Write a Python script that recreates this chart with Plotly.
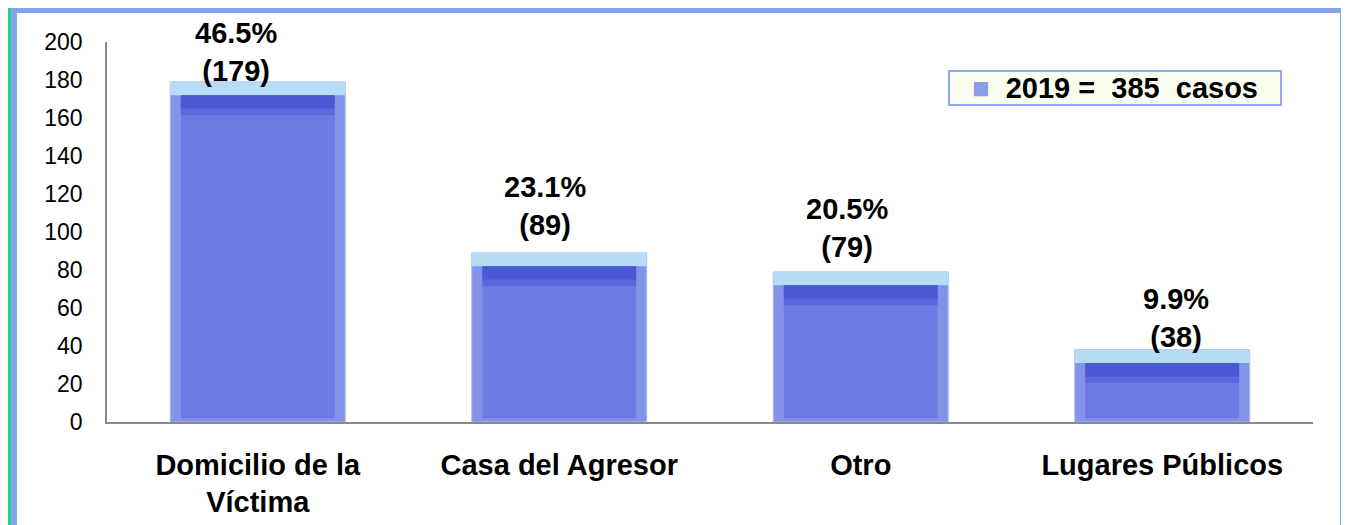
import plotly.graph_objects as go

# Lugar de la agresión, 2019
categories = ["Domicilio de la<br>Víctima", "Casa del Agresor", "Otro", "Lugares Públicos"]
cases = [179, 89, 79, 38]
percents = ["46.5%", "23.1%", "20.5%", "9.9%"]
legend_name = "2019 =\u00a0\u00a0385\u00a0\u00a0casos"
label_xshift = [-22, -14, -14, 14]
label_yshift = [-7, 10, 7, -5]

FONT = "Liberation Sans, Arial, sans-serif"
CAP = 7  # height of the bevelled top edge, in axis units

fig = go.Figure()

# outer bar: bevel sides
fig.add_trace(go.Bar(
    x=categories, y=cases, width=0.58, name=legend_name,
    marker=dict(color="#8293e8", line=dict(color="#a9b6f2", width=1)),
    showlegend=False, hoverinfo="skip",
))
# light top cap
fig.add_trace(go.Bar(
    x=categories, y=[CAP] * len(cases), base=[v - CAP for v in cases], width=0.58,
    marker=dict(color="#b7dcf8", line=dict(width=0)),
    showlegend=False, hoverinfo="skip",
))
# inner face
fig.add_trace(go.Bar(
    x=categories, y=[v - CAP - 2 for v in cases], base=[2] * len(cases), width=0.51,
    marker=dict(color="#6a7ce2", line=dict(width=0)),
    showlegend=False, hoverinfo="skip",
))
# darker upper band of the face
fig.add_trace(go.Bar(
    x=categories, y=[CAP * 1.5] * len(cases), base=[v - 2.5 * CAP for v in cases], width=0.51,
    marker=dict(color="#4a59d6", line=dict(width=0), opacity=0.55),
    showlegend=False, hoverinfo="skip",
))
fig.add_trace(go.Bar(
    x=categories, y=[CAP * 1.0] * len(cases), base=[v - 2.0 * CAP for v in cases], width=0.51,
    marker=dict(color="#3c48cc", line=dict(width=0), opacity=0.5),
    showlegend=False, hoverinfo="skip",
))

for i, (cat, v, p) in enumerate(zip(categories, cases, percents)):
    fig.add_annotation(
        x=cat, y=v, text=f"<b>{p}<br>({v})</b>", showarrow=False,
        yanchor="bottom", xshift=label_xshift[i], yshift=label_yshift[i],
        font=dict(family=FONT, size=29, color="#000000"),
    )

# legend box (drawn as a boxed annotation so it keeps the compact height)
fig.add_annotation(
    xref="paper", yref="paper", x=0.697, y=0.926, xanchor="left", yanchor="top",
    text=f'<span style="color:#8a9be8">\u25a0</span>\u00a0\u00a0<b>{legend_name}</b>',
    showarrow=False, align="center", width=330, height=32,
    bgcolor="#fafcf0", bordercolor="#8caaf0", borderwidth=2, borderpad=0,
    font=dict(family=FONT, size=29, color="#000000"),
)

# frame around the chart (page has an 8px body margin)
fig.add_shape(type="rect", xref="paper", yref="paper",
              x0=-0.0821, x1=-0.0796, y0=-0.30, y1=1.10,
              fillcolor="#1ecf8f", line_width=0, layer="below")
fig.add_shape(type="rect", xref="paper", yref="paper",
              x0=-0.0796, x1=1.0274, y0=-0.30, y1=1.10,
              fillcolor="#87a3ec", line_width=0, layer="below")
fig.add_shape(type="rect", xref="paper", yref="paper",
              x0=-0.0746, x1=1.0224, y0=-0.30, y1=1.0763,
              fillcolor="#ffffff", line_width=0, layer="below")

fig.update_layout(
    width=1341, height=517,
    margin=dict(l=99, r=36, t=34, b=103),
    paper_bgcolor="#ffffff", plot_bgcolor="rgba(0,0,0,0)",
    barmode="overlay", bargap=0.42, showlegend=False,
    font=dict(family=FONT, color="#000000"),
    xaxis=dict(
        showline=True, linecolor="#8a8a8a", linewidth=1.5, automargin=False,
        showgrid=False, ticks="", ticklabelstandoff=16,
        tickfont=dict(family=FONT, size=29, weight="bold"),
    ),
    yaxis=dict(
        range=[0, 200], dtick=20, showline=True, linecolor="#8a8a8a", linewidth=1.5,
        showgrid=False, zeroline=False, ticks="", ticklabelstandoff=18, automargin=False,
        tickfont=dict(family=FONT, size=23),
    ),
)

fig.write_html("out.html")
